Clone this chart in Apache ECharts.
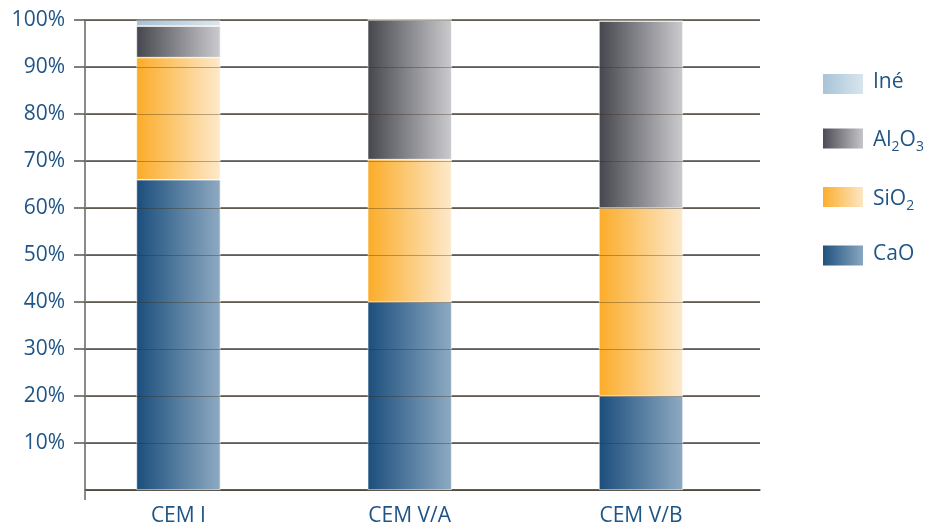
<!DOCTYPE html>
<html>
<head>
<meta charset="utf-8">
<script src="https://cdn.jsdelivr.net/npm/echarts@6/dist/echarts.min.js"></script>
<style>html,body{margin:0;padding:0;background:#fff}#c{width:925px;height:527px}</style>
</head>
<body>
<div id="c"></div>
<script>
const categories = ['CEM I', 'CEM V/A', 'CEM V/B'];
const seriesNames = ['CaO', 'SiO2', 'Al2O3', 'Iné'];
const cao   = [66, 40, 20];
const sio2  = [26, 30.3, 40];
const al2o3 = [6.7, 29.7, 39.8];
const ine   = [1.3, 0, 0];
const legendOrder = ['Iné', 'Al2O3', 'SiO2', 'CaO'];

const TXT = '#1f5486';
const FONT = 'Open Sans';

function grad(a, b) {
  return { type: 'linear', x: 0, y: 0, x2: 1, y2: 0,
    colorStops: [{ offset: 0, color: a }, { offset: 1, color: b }] };
}
const colors = {
  'CaO': grad('#1b4e7c', '#8eaac2'),
  'SiO2': grad('#fbac28', '#fde9cc'),
  'Al2O3': grad('#46474e', '#cbcbcf'),
  'Iné': grad('#a5c2d6', '#dbe7ef')
};
const values = { 'CaO': cao, 'SiO2': sio2, 'Al2O3': al2o3, 'Iné': ine };

const chart = echarts.init(document.getElementById('c'));
chart.setOption({
  animation: false,
  backgroundColor: '#fff',
  textStyle: { fontFamily: FONT },
  grid: [
    { left: 62.8, right: 168.4, top: 20, bottom: 37 },  // bar band layout
    { left: 85, right: 165, top: 20, bottom: 37 }       // visible axes
  ],
  legend: {
    orient: 'vertical',
    left: 816, top: 67,
    data: legendOrder,
    itemWidth: 42, itemHeight: 22, itemGap: 30.5,
    selectedMode: false,
    icon: 'rect',
    textStyle: {
      color: TXT, fontSize: 21, fontFamily: FONT, padding: [0, 0, 0, 4], height: 24,
      rich: {
        s: { fontSize: 14, color: TXT, fontFamily: FONT, padding: [14, 0, 0, 0] }
      }
    },
    formatter: n => n === 'Al2O3' ? 'Al{s|2}O{s|3}' : (n === 'SiO2' ? 'SiO{s|2}' : n)
  },
  xAxis: [{
    gridIndex: 0, type: 'category', data: categories,
    axisLine: { show: false }, axisTick: { show: false }, splitLine: { show: false },
    axisLabel: { color: TXT, fontSize: 21, fontFamily: FONT, margin: 16, interval: 0 }
  }, {
    gridIndex: 1, type: 'value', min: 0, max: 1,
    axisLine: { show: true, onZero: false, lineStyle: { color: '#555', width: 1.5 } },
    splitLine: { show: false }, axisLabel: { show: false },
    axisTick: { show: true, customValues: [0], length: 10, lineStyle: { color: '#8a8a8a', width: 2 } }
  }],
  yAxis: [{
    gridIndex: 0, type: 'value', min: 0, max: 100, show: false
  }, {
    gridIndex: 1, type: 'value', min: 0, max: 100, interval: 10,
    axisLine: { show: true, onZero: false, lineStyle: { color: '#8a8a8a', width: 2 } },
    axisTick: { show: true, length: 11, lineStyle: { color: '#555', width: 1.5 } },
    splitLine: { show: true, lineStyle: { color: '#4a4a4a', width: 1.5 } },
    axisLabel: { color: TXT, fontSize: 21, fontFamily: FONT, margin: 20, showMinLabel: false,
      formatter: v => v + '%' }
  }, {
    gridIndex: 1, type: 'value', min: 0, max: 100, interval: 10, z: 10,
    axisLine: { show: false, onZero: false }, axisTick: { show: false }, axisLabel: { show: false },
    splitLine: { show: true, lineStyle: { color: 'rgba(60,40,10,0.35)', width: 1 } }
  }],
  series: seriesNames.map(n => ({
    name: n, type: 'bar', stack: 'total', barWidth: 84, xAxisIndex: 0, yAxisIndex: 0,
    itemStyle: { color: colors[n], borderColor: '#fff', borderWidth: 0.6 },
    data: values[n]
  }))
});
</script>
</body>
</html>
